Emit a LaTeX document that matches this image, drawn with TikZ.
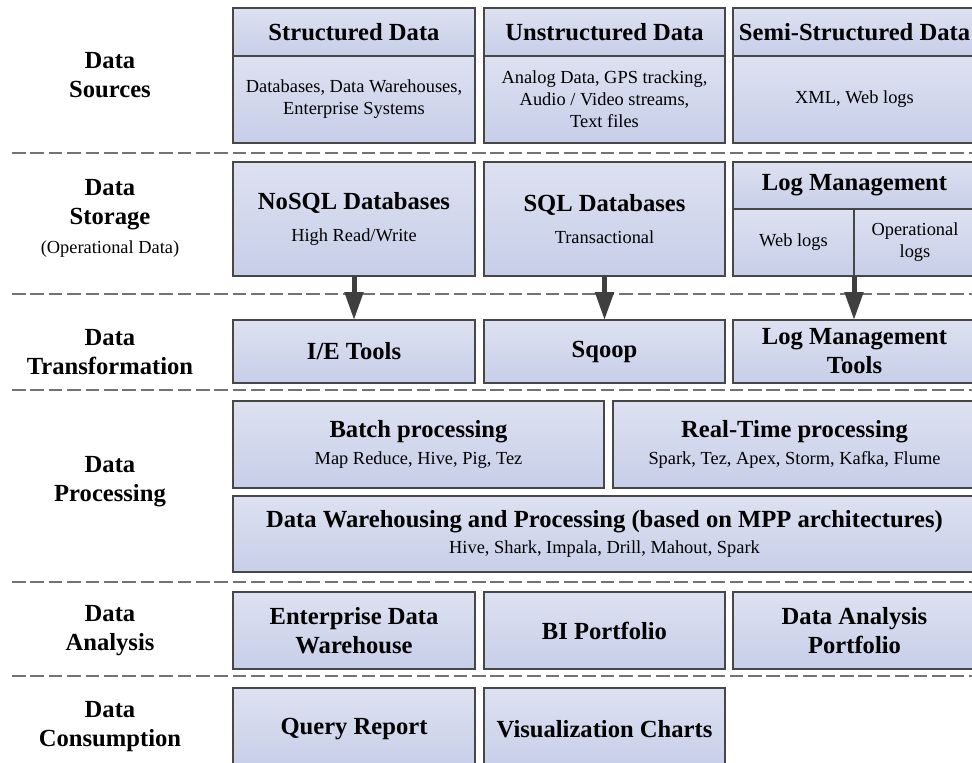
\documentclass[tikz,border=0pt]{standalone}
\usepackage{fontspec}
\setmainfont{Liberation Serif}
\usepackage{tikz}
\usetikzlibrary{arrows.meta}
\usepackage{xcolor}
\definecolor{boxtop}{HTML}{DDE1F1}
\definecolor{boxbot}{HTML}{C7CEE8}
\definecolor{boxline}{HTML}{474747}
\definecolor{arrowgray}{HTML}{3F3F3F}
\newcommand{\hdfont}{\fontsize{12.3}{14.5}\selectfont\bfseries}
\newcommand{\smfont}{\fontsize{9.2}{11}\selectfont\mdseries}
\tikzset{
  blk/.style={rectangle, draw=boxline, line width=0.75pt, top color=boxtop,
    bottom color=boxbot, inner sep=0pt, outer sep=0pt, align=center, font=\hdfont},
  smalltxt/.style={font=\smfont},
  wh/.style 2 args={minimum width=#1*0.5pt, minimum height=#2*0.5pt},
  layer/.style={align=center, font=\hdfont},
  sepline/.style={draw=black!55, line width=1pt, dash pattern=on 6.8pt off 2.4pt},
  flow/.style={draw=arrowgray, line width=2.5pt, -{Triangle[width=9pt,length=14pt]}}
}

\begin{document}
\begin{tikzpicture}[x=0.5pt, y=-0.5pt]
        \useasboundingbox (0,0) rectangle (972,762);
        % layer separators
        \foreach \y in {153,294,390,582,676}
          \draw[sepline] (12,\y) -- (980,\y);

        % layer names
        \node[layer] (srclbl) at (110,75) {Data\\Sources};
        \node[layer] (storlbl) at (110,218) {Data\\Storage\\{\smfont (Operational Data)}};
        \node[layer] (translbl) at (110,352) {Data\\Transformation};
        \node[layer] (proclbl) at (110,482) {Data\\Processing};
        \node[layer] (analbl) at (110,631) {Data\\Analysis};
        \node[layer] (conslbl) at (110,727) {Data\\Consumption};

        % data sources
        \node[blk, wh={242}{48}] (structhd) at (354,32) {Structured Data};
        \node[blk, smalltxt, wh={242}{87}] (structbd) at (354,99.5) {Databases, Data Warehouses,\\Enterprise Systems};
        \node[blk, wh={241}{48}] (unstrhd) at (604.5,32) {Unstructured Data};
        \node[blk, smalltxt, wh={241}{87}] (unstrbd) at (604.5,99.5) {Analog Data, GPS tracking,\\Audio / Video streams,\\Text files};
        \node[blk, wh={243}{48}] (semihd) at (854.5,32) {Semi-Structured Data};
        \node[blk, smalltxt, wh={243}{87}] (semibd) at (854.5,99.5) {XML, Web logs};

        % data storage
        \node[blk, wh={242}{114}] (nosql) at (354,219) {NoSQL Databases\\[1.5pt]{\smfont High Read/Write}};
        \node[blk, wh={241}{114}] (sqldb) at (604.5,219) {SQL Databases\\[1.5pt]{\smfont Transactional}};
        \node[blk, wh={243}{47}] (loghd) at (854.5,185.5) {Log Management};
        \node[blk, smalltxt, wh={121}{67}] (weblog) at (793.5,242.5) {Web logs};
        \node[blk, smalltxt, wh={122}{67}] (oplog) at (915,242.5) {Operational\\logs};

        % data transformation
        \node[blk, wh={242}{63}] (ietools) at (354,351.5) {I/E Tools};
        \node[blk, wh={241}{63}] (sqoop) at (604.5,351.5) {Sqoop};
        \node[blk, wh={243}{63}] (logtools) at (854.5,351.5) {Log Management\\Tools};

        % data processing
        \node[blk, wh={371}{87}] (batch) at (418.5,444.5) {Batch processing\\[-1pt]{\smfont Map Reduce, Hive, Pig, Tez}};
        \node[blk, wh={363}{87}] (realtime) at (794.5,444.5) {Real-Time processing\\[-1pt]{\smfont Spark, Tez, Apex, Storm, Kafka, Flume}};
        \node[blk, wh={743}{76}] (mpp) at (604.5,534) {Data Warehousing and Processing (based on MPP architectures)\\[-1.5pt]{\smfont Hive, Shark, Impala, Drill, Mahout, Spark}};

        % data analysis
        \node[blk, wh={242}{77}] (edw) at (354,630.5) {Enterprise Data\\Warehouse};
        \node[blk, wh={241}{77}] (biport) at (604.5,630.5) {BI Portfolio};
        \node[blk, wh={243}{77}] (daport) at (854.5,630.5) {Data Analysis\\Portfolio};

        % data consumption
        \node[blk, wh={242}{82}] (query) at (354,729) {Query Report};
        \node[blk, wh={241}{82}] (vischart) at (604.5,729) {Visualization Charts};

        % flows
        \draw[flow] (nosql.south) -- (ietools.north);
        \draw[flow] (sqldb.south) -- (sqoop.north);
        \draw[flow] (weblog.south east) -- (weblog.south east |- logtools.north);
      \end{tikzpicture}
\end{document}
